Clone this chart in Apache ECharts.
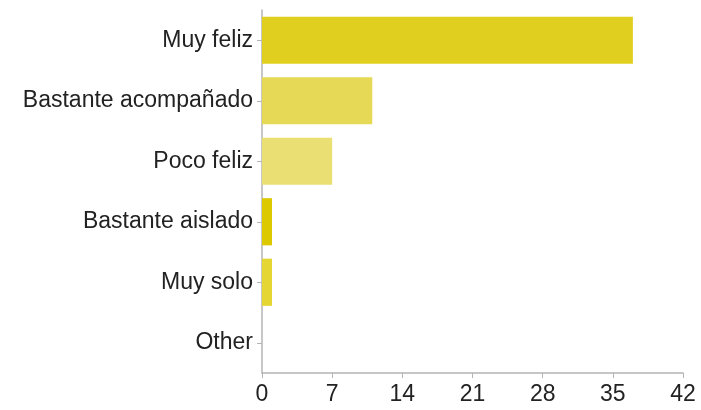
<!DOCTYPE html>
<html>
<head>
<meta charset="utf-8">
<script src="https://cdn.jsdelivr.net/npm/echarts@6/dist/echarts.min.js"></script>
<style>html,body{margin:0;padding:0;background:#fff}#c{width:701px;height:410px}</style>
</head>
<body>
<div id="c"></div>
<script>
const categories = ["Muy feliz", "Bastante acompañado", "Poco feliz", "Bastante aislado", "Muy solo", "Other"];
const values = [37, 11, 7, 1, 1, 0];
const barColors = ["#e0cf1f", "#e6d955", "#e9df72", "#ddc900", "#e5d634", "#e5d634"];
const xTicks = [0, 7, 14, 21, 28, 35, 42];
const FONT = '"Liberation Sans", "DejaVu Sans", sans-serif';

const chart = echarts.init(document.getElementById('c'), null, {renderer: 'canvas'});
chart.setOption({
  animation: false,
  grid: {left: 262, right: 18, top: 10, bottom: 37, containLabel: false},
  xAxis: {
    type: 'value', min: xTicks[0], max: xTicks[xTicks.length - 1], interval: 7,
    axisLine: {show: true, lineStyle: {color: '#b4b4b4', width: 1.5}},
    axisTick: {show: true, length: 5, lineStyle: {color: '#b4b4b4'}},
    splitLine: {show: false},
    axisLabel: {color: '#222', fontSize: 23, fontFamily: FONT, margin: 10}
  },
  yAxis: {
    type: 'category', data: categories, inverse: true,
    axisLine: {show: true, lineStyle: {color: '#b4b4b4', width: 1.5}},
    axisTick: {show: true, length: 5, alignWithLabel: true, lineStyle: {color: '#b4b4b4'}},
    axisLabel: {color: '#222', fontSize: 23, fontFamily: FONT, margin: 9, padding: [4, 0, 0, 0]}
  },
  series: [{
    type: 'bar',
    data: values.map((v, i) => ({value: v, itemStyle: {color: barColors[i]}})),
    barCategoryGap: '22%'
  }]
});
</script>
</body>
</html>
